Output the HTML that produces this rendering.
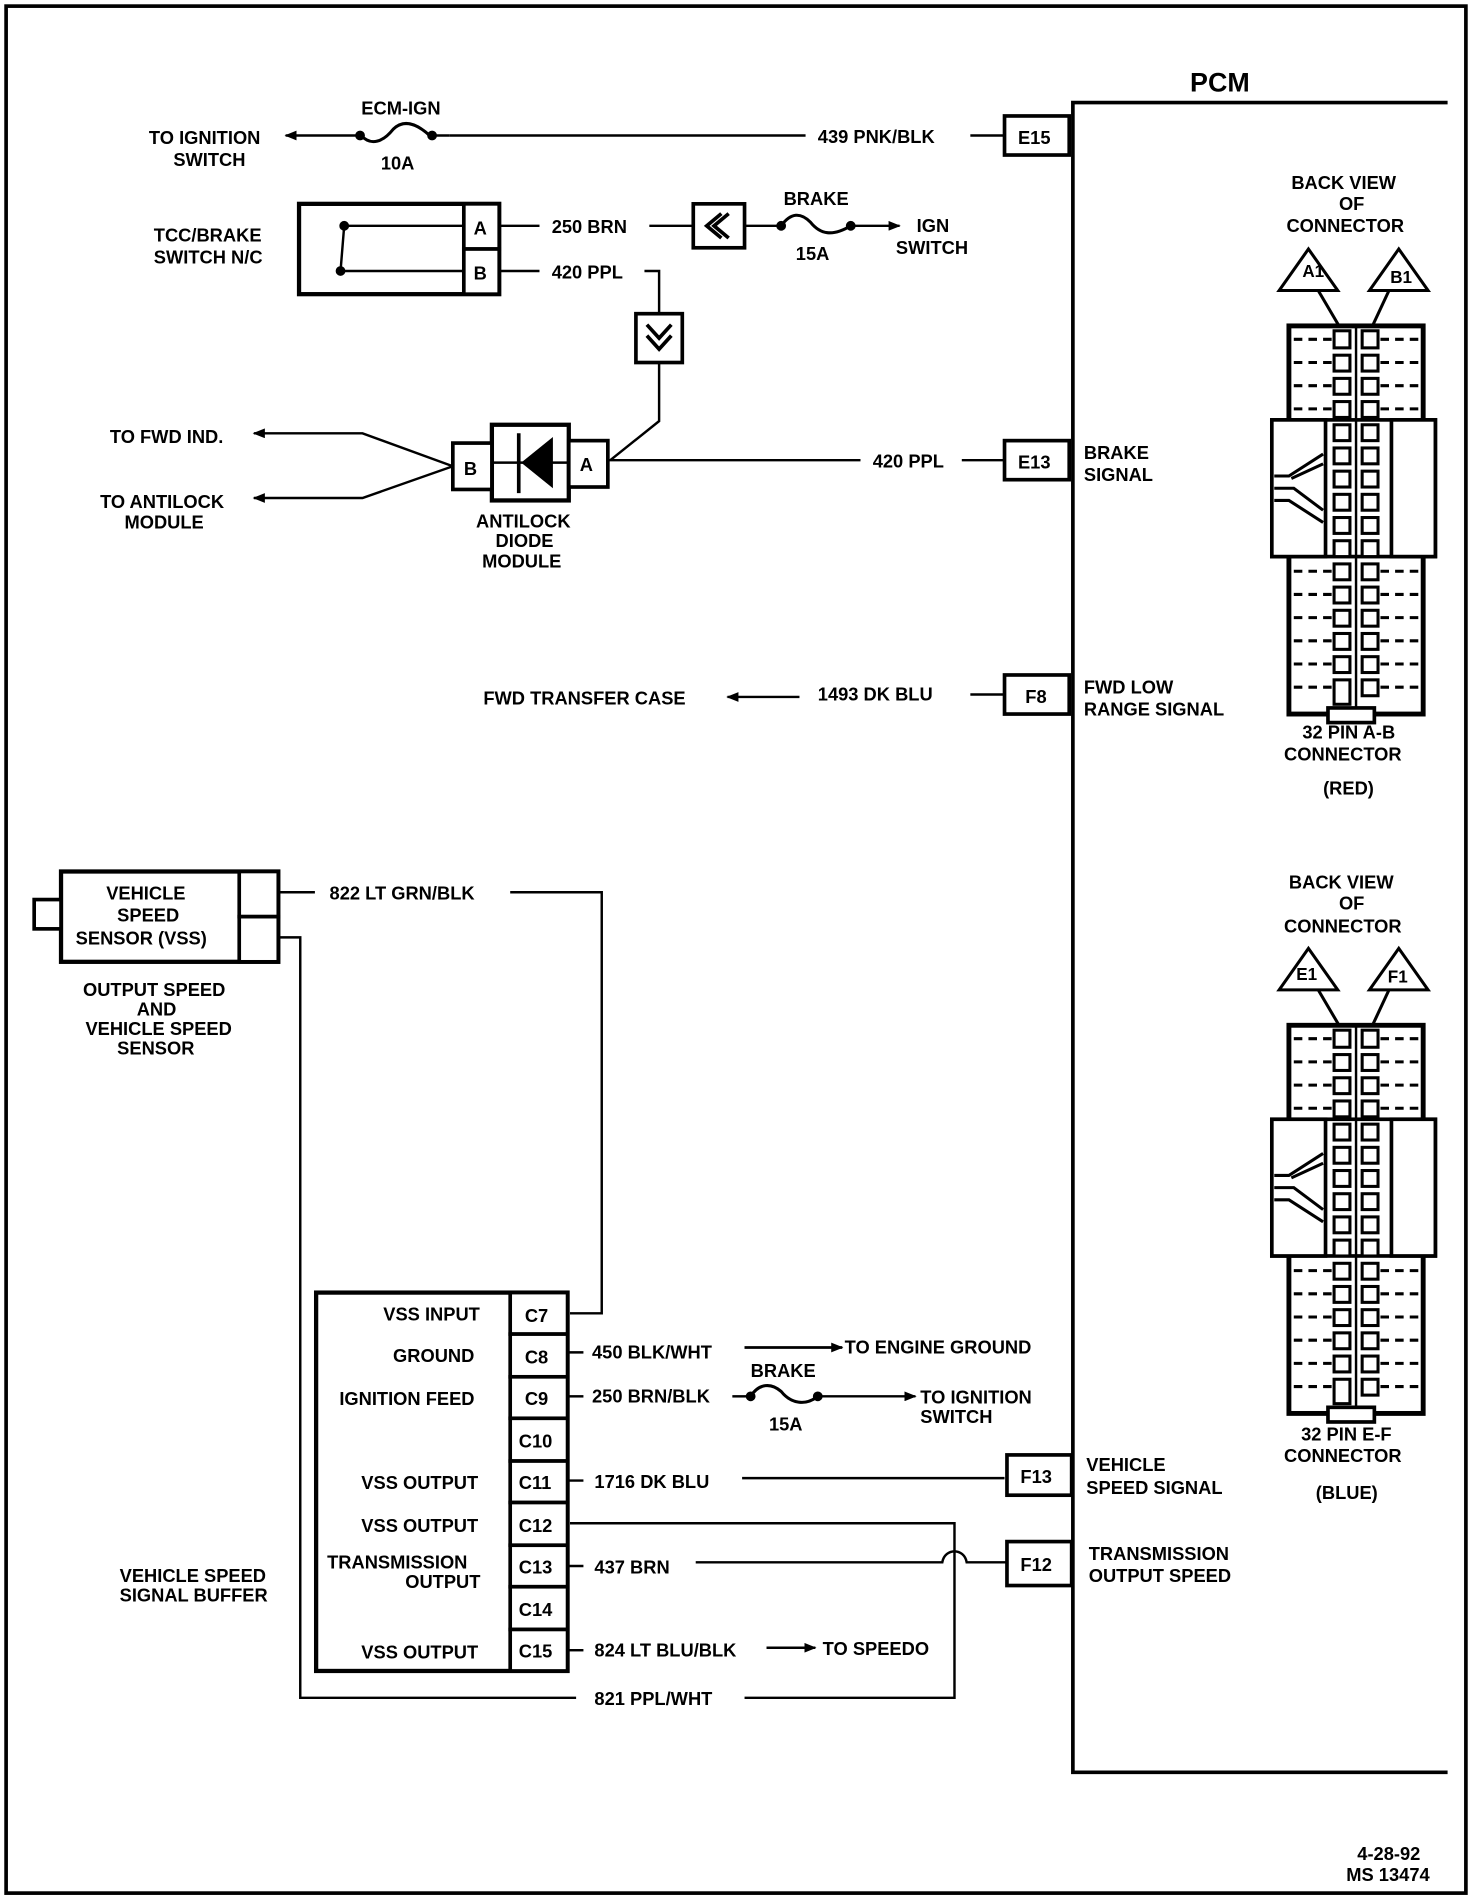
<!DOCTYPE html>
<html><head><meta charset="utf-8"><style>
html,body{margin:0;padding:0;background:#fff}
svg{display:block}
text{font-family:"Liberation Sans",sans-serif;font-weight:bold;font-size:15px;fill:#000}
</style></head><body>
<svg width="1472" height="1898" viewBox="0 0 1206 1555" xmlns="http://www.w3.org/2000/svg">
<defs>
<marker id="ar" markerWidth="10" markerHeight="8" refX="9" refY="4" orient="auto" markerUnits="userSpaceOnUse"><path d="M0,0 L10,4 L0,8 Z"/></marker>
<g id="conn">
 <polygon points="1048,238 1072,204 1096,238" fill="#fff" stroke="#000" stroke-width="2.5"/>
 <polygon points="1122,238 1146,204 1170,238" fill="#fff" stroke="#000" stroke-width="2.5"/>
 <line x1="1080" y1="238" x2="1100" y2="272" stroke="#000" stroke-width="2.5"/>
 <line x1="1138" y1="238" x2="1124" y2="268" stroke="#000" stroke-width="2.5"/>
 <rect x="1056" y="267" width="110" height="318" fill="#fff" stroke="#000" stroke-width="4"/>
 <rect x="1042" y="344" width="134" height="112" fill="#fff" stroke="#000" stroke-width="3"/>
 <rect x="1042" y="344" width="44" height="112" fill="#fff" stroke="#000" stroke-width="3"/>
 <rect x="1140" y="344" width="36" height="112" fill="#fff" stroke="#000" stroke-width="3"/>
 <path d="M1044,390 L1056,390 L1084,372 M1044,400 L1060,400 L1084,418 M1044,410 L1056,410 L1084,428 M1058,392 L1084,380" stroke="#000" stroke-width="2.5" fill="none"/>
 <line x1="1111" y1="267" x2="1111" y2="585" stroke="#000" stroke-width="2"/>
 <g fill="#fff" stroke="#000" stroke-width="2.5">
  <rect x="1093" y="271" width="13" height="14"/><rect x="1116" y="271" width="13" height="14"/>
  <rect x="1093" y="291" width="13" height="13"/><rect x="1116" y="291" width="13" height="13"/>
  <rect x="1093" y="310" width="13" height="13"/><rect x="1116" y="310" width="13" height="13"/>
  <rect x="1093" y="329" width="13" height="13"/><rect x="1116" y="329" width="13" height="13"/>
  <rect x="1093" y="348" width="13" height="13"/><rect x="1116" y="348" width="13" height="13"/>
  <rect x="1093" y="367" width="13" height="13"/><rect x="1116" y="367" width="13" height="13"/>
  <rect x="1093" y="386" width="13" height="13"/><rect x="1116" y="386" width="13" height="13"/>
  <rect x="1093" y="405" width="13" height="13"/><rect x="1116" y="405" width="13" height="13"/>
  <rect x="1093" y="424" width="13" height="13"/><rect x="1116" y="424" width="13" height="13"/>
  <rect x="1093" y="443" width="13" height="13"/><rect x="1116" y="443" width="13" height="13"/>
  <rect x="1093" y="462" width="13" height="13"/><rect x="1116" y="462" width="13" height="13"/>
  <rect x="1093" y="481" width="13" height="13"/><rect x="1116" y="481" width="13" height="13"/>
  <rect x="1093" y="500" width="13" height="13"/><rect x="1116" y="500" width="13" height="13"/>
  <rect x="1093" y="519" width="13" height="13"/><rect x="1116" y="519" width="13" height="13"/>
  <rect x="1093" y="538" width="13" height="13"/><rect x="1116" y="538" width="13" height="13"/>
  <rect x="1093" y="557" width="13" height="20"/><rect x="1116" y="557" width="13" height="13"/>
 </g>
 <g stroke="#000" stroke-width="2.5" stroke-dasharray="7,5">
  <line x1="1060" y1="278" x2="1091" y2="278"/><line x1="1131" y1="278" x2="1164" y2="278"/>
  <line x1="1060" y1="297" x2="1091" y2="297"/><line x1="1131" y1="297" x2="1164" y2="297"/>
  <line x1="1060" y1="316" x2="1091" y2="316"/><line x1="1131" y1="316" x2="1164" y2="316"/>
  <line x1="1060" y1="335" x2="1091" y2="335"/><line x1="1131" y1="335" x2="1164" y2="335"/>
  <line x1="1060" y1="468" x2="1091" y2="468"/><line x1="1131" y1="468" x2="1164" y2="468"/>
  <line x1="1060" y1="487" x2="1091" y2="487"/><line x1="1131" y1="487" x2="1164" y2="487"/>
  <line x1="1060" y1="506" x2="1091" y2="506"/><line x1="1131" y1="506" x2="1164" y2="506"/>
  <line x1="1060" y1="525" x2="1091" y2="525"/><line x1="1131" y1="525" x2="1164" y2="525"/>
  <line x1="1060" y1="544" x2="1091" y2="544"/><line x1="1131" y1="544" x2="1164" y2="544"/>
  <line x1="1060" y1="563" x2="1091" y2="563"/><line x1="1131" y1="563" x2="1164" y2="563"/>
 </g>
 <rect x="1088" y="580" width="38" height="12" fill="#fff" stroke="#000" stroke-width="3"/>
</g>
</defs>

<rect x="5" y="5" width="1196" height="1546" fill="none" stroke="#000" stroke-width="3"/>

<!-- PCM -->
<path d="M1186,84 L879,84 L879,1452 L1186,1452" fill="none" stroke="#000" stroke-width="3"/>
<text x="975" y="75" style="font-size:22px">PCM</text>

<!-- E15 -->
<rect x="823" y="95" width="53" height="32" fill="#fff" stroke="#000" stroke-width="3"/>
<text x="834" y="118">E15</text>
<line x1="795" y1="111" x2="823" y2="111" stroke="#000" stroke-width="2"/>
<text x="670" y="117">439 PNK/BLK</text>
<path d="M660,111 L368,111" stroke="#000" stroke-width="2"/>
<path d="M352,111 C340,100 330,98 322,106 C314,116 304,120 296,111" fill="none" stroke="#000" stroke-width="2.5"/>
<circle cx="295" cy="111" r="4"/><circle cx="354" cy="111" r="4"/>
<path d="M368,111 L354,111 M295,111 L234,111" stroke="#000" stroke-width="2" marker-end="url(#ar)"/>
<text x="296" y="94">ECM-IGN</text>
<text x="312" y="139">10A</text>
<text x="122" y="118">TO IGNITION</text>
<text x="142" y="136">SWITCH</text>

<!-- TCC switch -->
<rect x="245" y="167" width="164" height="74" fill="#fff" stroke="#000" stroke-width="3.5"/>
<rect x="380" y="167" width="29" height="37" fill="#fff" stroke="#000" stroke-width="3"/>
<rect x="380" y="204" width="29" height="37" fill="#fff" stroke="#000" stroke-width="3"/>
<text x="388" y="192">A</text><text x="388" y="229">B</text>
<circle cx="282" cy="185" r="4"/><circle cx="279" cy="222" r="4"/>
<path d="M282,185 L380,185 M279,222 L380,222 M282,185 L279,222" stroke="#000" stroke-width="2"/>
<text x="126" y="198">TCC/BRAKE</text>
<text x="126" y="216">SWITCH N/C</text>
<path d="M409,185 L442,185 M409,222 L442,222" stroke="#000" stroke-width="2"/>
<text x="452" y="191">250 BRN</text>
<text x="452" y="228">420 PPL</text>
<path d="M532,185 L568,185 M610,185 L638,185" stroke="#000" stroke-width="2"/>
<rect x="568" y="167" width="42" height="36" fill="#fff" stroke="#000" stroke-width="3"/>
<path d="M597,175 L585,185 L597,195 M591,175 L579,185 L591,195" fill="none" stroke="#000" stroke-width="3"/>
<circle cx="640" cy="185" r="4"/><circle cx="697" cy="185" r="4"/>
<path d="M640,185 C648,174 656,174 664,182 C672,192 682,194 697,185" fill="none" stroke="#000" stroke-width="2.5"/>
<path d="M697,185 L737,185" stroke="#000" stroke-width="2" marker-end="url(#ar)"/>
<text x="642" y="168">BRAKE</text>
<text x="652" y="213">15A</text>
<text x="751" y="190">IGN</text>
<text x="734" y="208">SWITCH</text>

<!-- 420 PPL down -->
<path d="M528,222 L540,222 L540,257 M540,297 L540,345 L500,377" fill="none" stroke="#000" stroke-width="2"/>
<rect x="521" y="257" width="38" height="40" fill="#fff" stroke="#000" stroke-width="3"/>
<path d="M530,266 L540,277 L550,266 M530,275 L540,286 L550,275" fill="none" stroke="#000" stroke-width="3"/>

<!-- Diode module -->
<rect x="403" y="348" width="63" height="62" fill="#fff" stroke="#000" stroke-width="3.5"/>
<rect x="371" y="363" width="32" height="38" fill="#fff" stroke="#000" stroke-width="3"/>
<rect x="466" y="361" width="32" height="38" fill="#fff" stroke="#000" stroke-width="3"/>
<text x="380" y="389">B</text><text x="475" y="386">A</text>
<line x1="403" y1="379" x2="466" y2="379" stroke="#000" stroke-width="2"/>
<line x1="425" y1="355" x2="425" y2="404" stroke="#000" stroke-width="3"/>
<polygon points="427,379 453,358 453,400"/>
<text x="390" y="432">ANTILOCK</text>
<text x="406" y="448">DIODE</text>
<text x="395" y="465">MODULE</text>
<path d="M498,377 L705,377 M788,377 L823,377" stroke="#000" stroke-width="2"/>
<text x="715" y="383">420 PPL</text>
<rect x="823" y="361" width="53" height="32" fill="#fff" stroke="#000" stroke-width="3"/>
<text x="834" y="384">E13</text>
<text x="888" y="376">BRAKE</text>
<text x="888" y="394">SIGNAL</text>
<path d="M371,382 L297,355 L208,355" fill="none" stroke="#000" stroke-width="2" marker-end="url(#ar)"/>
<path d="M371,382 L297,408 L208,408" fill="none" stroke="#000" stroke-width="2" marker-end="url(#ar)"/>
<text x="90" y="363">TO FWD IND.</text>
<text x="82" y="416">TO ANTILOCK</text>
<text x="102" y="433">MODULE</text>

<!-- F8 -->
<rect x="823" y="553" width="53" height="32" fill="#fff" stroke="#000" stroke-width="3"/>
<text x="840" y="576">F8</text>
<line x1="795" y1="569" x2="823" y2="569" stroke="#000" stroke-width="2"/>
<text x="670" y="574">1493 DK BLU</text>
<path d="M655,571 L596,571" stroke="#000" stroke-width="2" marker-end="url(#ar)"/>
<text x="396" y="577">FWD TRANSFER CASE</text>
<text x="888" y="568">FWD LOW</text>
<text x="888" y="586">RANGE SIGNAL</text>

<!-- Connectors -->
<use href="#conn"/>
<use href="#conn" y="573"/>
<text x="1058" y="155">BACK VIEW</text>
<text x="1097" y="172">OF</text>
<text x="1054" y="190">CONNECTOR</text>
<text x="1067" y="227" style="font-size:14px">A1</text>
<text x="1139" y="232" style="font-size:14px">B1</text>
<text x="1067" y="605">32 PIN A-B</text>
<text x="1052" y="623">CONNECTOR</text>
<text x="1084" y="651">(RED)</text>
<text x="1056" y="728">BACK VIEW</text>
<text x="1097" y="745">OF</text>
<text x="1052" y="764">CONNECTOR</text>
<text x="1062" y="803" style="font-size:14px">E1</text>
<text x="1137" y="805" style="font-size:14px">F1</text>
<text x="1066" y="1180">32 PIN E-F</text>
<text x="1052" y="1198">CONNECTOR</text>
<text x="1078" y="1228">(BLUE)</text>

<!-- VSS -->
<rect x="50" y="714" width="178" height="74" fill="#fff" stroke="#000" stroke-width="3.5"/>
<rect x="196" y="714" width="32" height="37" fill="#fff" stroke="#000" stroke-width="3"/>
<rect x="196" y="751" width="32" height="37" fill="#fff" stroke="#000" stroke-width="3"/>
<rect x="28" y="737" width="22" height="24" fill="#fff" stroke="#000" stroke-width="3"/>
<text x="87" y="737">VEHICLE</text>
<text x="96" y="755">SPEED</text>
<text x="62" y="774">SENSOR (VSS)</text>
<text x="68" y="816">OUTPUT SPEED</text>
<text x="112" y="832">AND</text>
<text x="70" y="848">VEHICLE SPEED</text>
<text x="96" y="864">SENSOR</text>
<path d="M228,731 L258,731" stroke="#000" stroke-width="2"/>
<text x="270" y="737">822 LT GRN/BLK</text>
<path d="M418,731 L493,731 L493,1076 L467,1076" fill="none" stroke="#000" stroke-width="2"/>
<path d="M228,768 L246,768 L246,1391 L472,1391 M610,1391 L782,1391 L782,1248 L467,1248" fill="none" stroke="#000" stroke-width="2"/>
<text x="487" y="1397">821 PPL/WHT</text>

<!-- Buffer -->
<rect x="259" y="1059" width="206" height="310" fill="#fff" stroke="#000" stroke-width="3.5"/>
<g fill="#fff" stroke="#000" stroke-width="3">
<rect x="418" y="1059" width="47" height="34"/><rect x="418" y="1093" width="47" height="35"/>
<rect x="418" y="1128" width="47" height="34"/><rect x="418" y="1162" width="47" height="35"/>
<rect x="418" y="1197" width="47" height="34"/><rect x="418" y="1231" width="47" height="35"/>
<rect x="418" y="1266" width="47" height="34"/><rect x="418" y="1300" width="47" height="35"/>
<rect x="418" y="1335" width="47" height="34"/>
</g>
<text x="430" y="1083">C7</text><text x="430" y="1117">C8</text><text x="430" y="1151">C9</text>
<text x="425" y="1186">C10</text><text x="425" y="1220">C11</text><text x="425" y="1255">C12</text>
<text x="425" y="1289">C13</text><text x="425" y="1324">C14</text><text x="425" y="1358">C15</text>
<text x="314" y="1082">VSS INPUT</text>
<text x="322" y="1116">GROUND</text>
<text x="278" y="1151">IGNITION FEED</text>
<text x="296" y="1220">VSS OUTPUT</text>
<text x="296" y="1255">VSS OUTPUT</text>
<text x="268" y="1285">TRANSMISSION</text>
<text x="332" y="1301">OUTPUT</text>
<text x="296" y="1359">VSS OUTPUT</text>
<text x="98" y="1296">VEHICLE SPEED</text>
<text x="98" y="1312">SIGNAL BUFFER</text>

<path d="M465,1108 L478,1108 M610,1104 L690,1104" stroke="#000" stroke-width="2"/>
<path d="M610,1104 L690,1104" stroke="#000" stroke-width="2" marker-end="url(#ar)"/>
<text x="485" y="1113">450 BLK/WHT</text>
<text x="692" y="1109">TO ENGINE GROUND</text>

<path d="M465,1144 L478,1144" stroke="#000" stroke-width="2"/>
<text x="485" y="1149">250 BRN/BLK</text>
<line x1="600" y1="1144" x2="612" y2="1144" stroke="#000" stroke-width="2"/>
<circle cx="615" cy="1144" r="4"/><circle cx="670" cy="1144" r="4"/>
<path d="M615,1144 C622,1133 632,1133 640,1140 C648,1150 660,1152 670,1144" fill="none" stroke="#000" stroke-width="2.5"/>
<path d="M670,1144 L750,1144" stroke="#000" stroke-width="2" marker-end="url(#ar)"/>
<text x="615" y="1128">BRAKE</text>
<text x="630" y="1172">15A</text>
<text x="754" y="1150">TO IGNITION</text>
<text x="754" y="1166">SWITCH</text>

<path d="M465,1213 L478,1213 M608,1211 L823,1211" stroke="#000" stroke-width="2"/>
<text x="487" y="1219">1716 DK BLU</text>
<rect x="825" y="1192" width="53" height="33" fill="#fff" stroke="#000" stroke-width="3"/>
<text x="836" y="1215">F13</text>
<text x="890" y="1205">VEHICLE</text>
<text x="890" y="1224">SPEED SIGNAL</text>

<path d="M465,1283 L478,1283 M570,1280 L772,1280 C774,1268 790,1268 792,1280 L825,1280" fill="none" stroke="#000" stroke-width="2"/>
<text x="487" y="1289">437 BRN</text>
<rect x="825" y="1263" width="53" height="36" fill="#fff" stroke="#000" stroke-width="3"/>
<text x="836" y="1287">F12</text>
<text x="892" y="1278">TRANSMISSION</text>
<text x="892" y="1296">OUTPUT SPEED</text>

<path d="M465,1352 L478,1352" stroke="#000" stroke-width="2"/>
<text x="487" y="1357">824 LT BLU/BLK</text>
<path d="M628,1350 L668,1350" stroke="#000" stroke-width="2" marker-end="url(#ar)"/>
<text x="674" y="1356">TO SPEEDO</text>

<text x="1112" y="1524">4-28-92</text>
<text x="1103" y="1541">MS 13474</text>
</svg>
</body></html>
